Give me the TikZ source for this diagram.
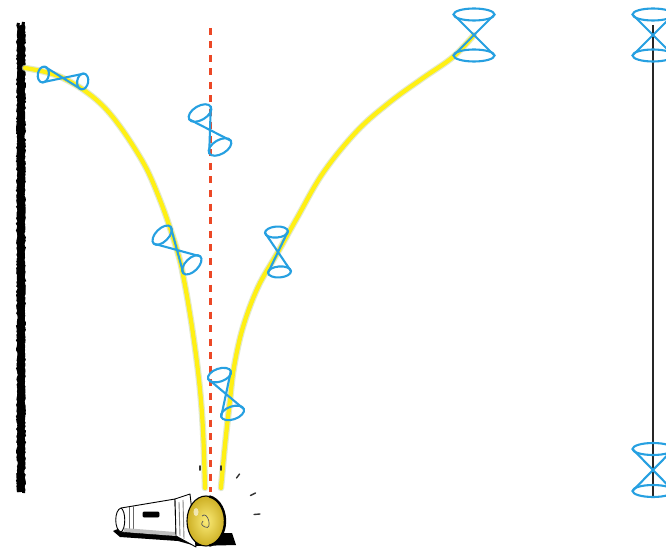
\documentclass[tikz,border=0pt]{standalone}
\usetikzlibrary{decorations.pathmorphing}
\begin{document}
\definecolor{beam}{RGB}{255,240,20}
\definecolor{beamedge}{RGB}{215,225,185}
\definecolor{conecol}{RGB}{38,160,225}
\definecolor{ray}{RGB}{236,72,38}
\definecolor{lensA}{RGB}{250,235,120}
\definecolor{lensB}{RGB}{205,175,35}
\tikzset{
  conestyle/.style={draw=conecol, line width=2.1pt},
  beamglow/.style={draw=beamedge, line width=6.5pt, line cap=round, opacity=0.7},
  beamline/.style={draw=beam, line width=4.2pt, line cap=round},
  rayline/.style={draw=ray, line width=3pt, dash pattern=on 7pt off 6.5pt},
  worldline/.style={draw=black!85, line width=1.8pt},
  wallstroke/.style={draw=black, line width=#1,
    decorate, decoration={random steps, segment length=2pt, amplitude=0.9pt}},
  tick/.style={draw=black!80, line width=1.4pt, line cap=round},
  lampline/.style={draw=black, line width=0.9pt, line join=round},
}
% double cone: apex x, apex y, axis angle, half length, radius, half width of rim
\newcommand\lcone[6]{%
  \begin{scope}[shift={(#1,#2)}, rotate=#3]
    \draw[conestyle] (#4pt,0pt) ellipse [x radius=#6pt, y radius=#5pt];
    \draw[conestyle] (-#4pt,0pt) ellipse [x radius=#6pt, y radius=#5pt];
    \draw[conestyle] (-#4pt,-#5pt) -- (#4pt,#5pt) (-#4pt,#5pt) -- (#4pt,-#5pt);
  \end{scope}}
\begin{tikzpicture}[x=1pt, y=-1pt]
  \useasboundingbox[fill=white] (0,0) rectangle (666,548);

  % key points
  \coordinate (walltop) at (21,25);
  \coordinate (wallbot) at (21,492);
  \coordinate (raytop) at (210,28);
  \coordinate (raybot) at (210,492);
  \coordinate (vtop) at (653,25);
  \coordinate (vbot) at (653,497);

  % rough wall
  \draw[wallstroke=7pt] (walltop) -- (wallbot);
  \draw[wallstroke=3pt] ([xshift=-2.5pt,yshift=2pt]walltop) -- ([xshift=-2.5pt]wallbot);
  \draw[wallstroke=3pt] ([xshift=2.5pt,yshift=3pt]walltop) -- ([xshift=2.5pt,yshift=-1pt]wallbot);

  % bent beams
  \foreach \sty in {beamglow, beamline}{
    \draw[\sty] plot[smooth, tension=0.6] coordinates {
      (25,68) (63,78) (104,107) (140,157) (160,200) (177,250) (184,280)
      (192,327) (199,380) (203,430) (205,488)};
    \draw[\sty] plot[smooth, tension=0.6] coordinates {
      (221,488) (225,445) (230,400) (234,367) (243,327) (258,287) (278,252)
      (297,218) (323,173) (357,131) (390,102) (423,78) (453,57) (474,35)};
  }

  % straight reference ray
  \draw[rayline] (raytop) -- (raybot);

  % vertical world line
  \draw[worldline] (vtop) -- (vbot);

  % light cones
  \lcone{63}{78}{-10}{20}{8}{5.5}
  \lcone{210}{130}{-59.5}{19.7}{12.5}{7}
  \lcone{177}{250}{-45}{21}{12}{6.5}
  \lcone{278}{252}{-85.7}{20}{11.5}{5.5}
  \lcone{226}{394}{-71}{20}{12}{6.5}
  \lcone{474}{35}{90}{20.5}{20.5}{6}
  \lcone{653}{35}{90}{20.5}{20.5}{6}
  \lcone{653}{470}{90}{21}{20.5}{6}

  % flashlight
  \coordinate (lens) at (206,521);
  \fill[black] (113,531) -- (120,537) -- (178,541) -- (196,546) -- (236,545)
    -- (232,533) -- (178,533) -- (120,528) -- cycle;
  \filldraw[lampline, fill=white] (121,508) -- (175,499) -- (176,536) -- (121,532)
    .. controls (114,530) and (114,510) .. (121,508);
  \draw[lampline] (121,508) .. controls (126,511) and (126,529) .. (121,532);
  \draw[lampline, black!60] (129,507) -- (129,532) (133,506) -- (133,533);
  \fill[black!25] (124,528) -- (175,532) -- (176,536) -- (124,532) -- cycle;
  \filldraw[lampline, fill=black, rounded corners=1pt] (143,512) rectangle (159,517);
  \filldraw[lampline, fill=white] (175,499) -- (190,494) -- (196,547) -- (176,536) -- cycle;
  \draw[lampline, black!50] (179,502) -- (180,536) (183,500) -- (184,539);
  \shade[inner color=lensA, outer color=lensB] (lens) ellipse [x radius=19pt, y radius=25pt];
  \draw[line width=1.1pt] (lens) ellipse [x radius=19pt, y radius=25pt];
  \draw[line width=2.4pt] ([shift={(3.3,-24.6)}]lens)
    arc[start angle=80, end angle=-80, x radius=19pt, y radius=25pt];
  \draw[line width=0.7pt, black!65] ([shift={(-4,-5)}]lens)
    .. controls +(6pt,6pt) and +(8pt,-4pt) .. ([shift={(-1,6)}]lens)
    .. controls +(-4pt,2pt) and +(-2pt,-3pt) .. ([shift={(-3,0)}]lens);
  \fill[white, opacity=0.6] ([shift={(-10,-9)}]lens) ellipse [x radius=2.5pt, y radius=4pt];

  % motion marks
  \coordinate (m1) at (238,476);
  \coordinate (m2) at (253,494);
  \coordinate (m3) at (257,514);
  \draw[tick] ([shift={(-1.5,2)}]m1) -- ([shift={(1.5,-2)}]m1);
  \draw[tick] ([shift={(-2.5,1.5)}]m2) -- ([shift={(2.5,-1)}]m2);
  \draw[tick] ([shift={(-3,0.5)}]m3) -- ([shift={(3,0)}]m3);
  \coordinate (s1) at (200,468);
  \coordinate (s2) at (221,468);
  \draw[tick, line width=1.1pt] ([shift={(0,-2.2)}]s1) -- ([shift={(0,2.2)}]s1);
  \draw[tick, line width=1.1pt] ([shift={(0,-2.2)}]s2) -- ([shift={(0,2.2)}]s2);
\end{tikzpicture}
\end{document}
